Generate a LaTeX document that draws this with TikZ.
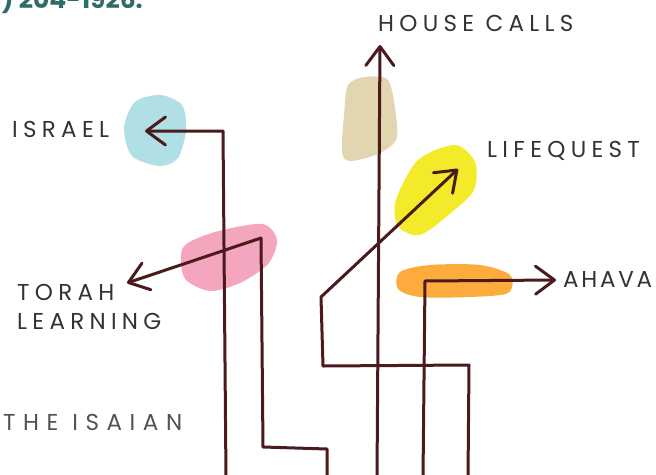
\documentclass[tikz,border=0pt]{standalone}
\usepackage{xcolor}
\usepackage{fontspec}
\setmainfont{Poppins}
\newfontfamily\labelfont[LetterSpace=23]{Poppins}
\newfontfamily\narrowfont[LetterSpace=12]{Poppins}
\newfontfamily\widefont[LetterSpace=33]{Poppins}
\usepackage{tikz}
\usetikzlibrary{arrows.meta,positioning,calc}

\definecolor{ink}{HTML}{4A1A1C}
\definecolor{labelgray}{HTML}{333333}
\definecolor{teal}{HTML}{2F6A6C}
\definecolor{cyanblob}{HTML}{B0DFE6}
\definecolor{beigeblob}{HTML}{E2D6B0}
\definecolor{yellowblob}{HTML}{F3EA2A}
\definecolor{pinkblob}{HTML}{F5A6BF}
\definecolor{orangeblob}{HTML}{FCAB3C}

\begin{document}
\begin{tikzpicture}[x=1pt, y=-1pt]
  \tikzstyle{label} = [inner sep=0pt, anchor=base west, text=labelgray, font=\labelfont\fontsize{23}{28}\selectfont]
  \tikzstyle{route} = [draw=ink, line width=3pt, line cap=round, line join=round]
  \tikzstyle{tip} = [-{Straight Barb[length=19pt,width=28pt,round]}]

  \useasboundingbox (0,0) rectangle (656,474);
  \clip (0,0) rectangle (656,474);

  % colour patches
  \fill[cyanblob] plot[smooth cycle] coordinates {(124,128) (135,102) (160,95) (182,105) (186,130) (178,158) (160,166) (132,156)};
  \fill[beigeblob] plot[smooth cycle] coordinates {(348,85) (365,77) (388,80) (396,115) (396,140) (378,154) (350,161) (342,152) (344,115)};
  \fill[yellowblob] plot[smooth cycle] coordinates {(455,145) (475,162) (474,190) (452,212) (420,235) (398,226) (396,200) (418,160)};
  \fill[pinkblob] plot[smooth cycle] coordinates {(185,245) (215,232) (262,224) (277,240) (268,264) (240,283) (210,291) (186,280) (181,262)};
  \fill[orangeblob] plot[smooth cycle] coordinates {(400,272) (430,265) (480,265) (510,275) (508,293) (470,297) (420,297) (398,289)};

  \node[anchor=base east, inner sep=0pt, text=teal, font=\bfseries\fontsize{25}{30}\selectfont] (phone) at (143,8) {) 204-1926.};

  \node[label] (israel) at (12,137) {ISRAEL};
  \node[label] (housecalls) at (378,31) {HOUSE CALLS};
  \node[label] (lifequest) at (487,157) {LIFEQUEST};
  \node[label] (torah) at (17,300) {TORAH};
  \node[label] (learning) at (17,329) {LEARNING};
  \node[label, text=labelgray!85, font=\widefont\fontsize{23}{28}\selectfont] (isaian) at (3,430) {THE ISAIAN};
  \node[label, font=\narrowfont\fontsize{23}{28}\selectfont] (ahava) at (563,287) {AHAVA};

  \coordinate (israel foot) at (226,478);
  \coordinate (israel tip) at (145,131);
  \coordinate (torah foot) at (327,478);
  \coordinate (torah tip) at (127,283);
  \coordinate (house foot) at (377,478);
  \coordinate (house tip) at (380,45);
  \coordinate (life foot) at (468,478);
  \coordinate (life tip) at (458,169);
  \coordinate (ahava foot) at (423,478);
  \coordinate (ahava tip) at (556,280);

  \draw[route, tip] (israel foot) -- (223,131) -- (israel tip);
  \draw[route, tip] (torah foot) -- (327,449) -- (263,447) -- (261,238) -- (torah tip);
  \draw[route, tip] (house foot) -- (house tip);
  \draw[route, tip] (life foot) -- (469,365) -- (323,366) -- (321,297) -- (life tip);
  \draw[route, tip] (ahava foot) -- (425,281) -- (ahava tip);
\end{tikzpicture}
\end{document}
